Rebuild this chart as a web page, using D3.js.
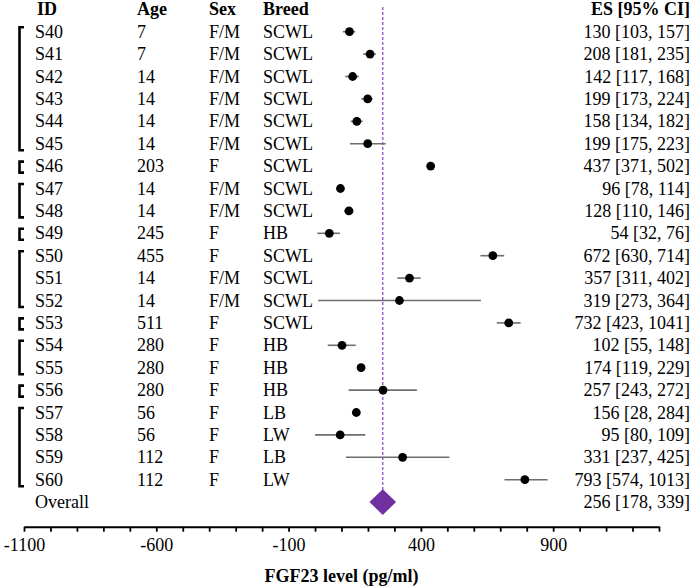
<!DOCTYPE html>
<html>
<head>
<meta charset="utf-8">
<script src="https://cdn.jsdelivr.net/npm/d3@7"></script>
<style>
  body { margin: 0; background: #fff; }
  svg text { font-family: "Liberation Serif", "Times New Roman", Times, "DejaVu Serif", serif; fill: #000; }
</style>
</head>
<body>
<div id="chart"></div>
<script>
// Study rows
const ids = ["S40", "S41", "S42", "S43", "S44", "S45", "S46", "S47", "S48", "S49", "S50",
    "S51", "S52", "S53", "S54", "S55", "S56", "S57", "S58", "S59", "S60"];
const ages = ["7", "7", "14", "14", "14", "14", "203", "14", "14", "245", "455",
    "14", "14", "511", "280", "280", "280", "56", "56", "112", "112"];
const sexes = ["F/M", "F/M", "F/M", "F/M", "F/M", "F/M", "F", "F/M", "F/M", "F", "F",
    "F/M", "F/M", "F", "F", "F", "F", "F", "F", "F", "F"];
const breeds = ["SCWL", "SCWL", "SCWL", "SCWL", "SCWL", "SCWL", "SCWL", "SCWL", "SCWL", "HB", "SCWL",
    "SCWL", "SCWL", "SCWL", "HB", "HB", "HB", "LB", "LW", "LB", "LW"];

// Effect sizes as printed
const es = [130, 208, 142, 199, 158, 199, 437, 96, 128, 54, 672, 357, 319, 732, 102, 174, 257, 156, 95, 331, 793];
const esLo = [103, 181, 117, 173, 134, 175, 371, 78, 110, 32, 630, 311, 273, 423, 55, 119, 243, 28, 80, 237, 574];
const esHi = [157, 235, 168, 224, 182, 223, 502, 114, 146, 76, 714, 402, 364, 1041, 148, 229, 272, 284, 109, 425, 1013];

// Whisker ends as drawn in the plot
const barLo = [105, 182, 114, 175, 135, 132, 437, 96, 110, 9, 625, 311, 12, 687, 48, 174, 127, 156, 0, 117, 716];
const barHi = [152, 230, 166, 218, 180, 267, 437, 96, 145, 94, 715, 399, 627, 777, 154, 174, 385, 156, 190, 508, 879];

// Pooled estimate
const overallES = 256;
const overallLo = 178;
const overallHi = 339;

// Brackets grouping studies
const groups = [["S40", "S45"], ["S46", "S46"], ["S47", "S48"], ["S49", "S49"], ["S50", "S52"],
    ["S53", "S53"], ["S54", "S55"], ["S56", "S56"], ["S57", "S60"]];

const xDomain = [-1100, 1300];
const tickVals = d3.range(-1100, 1301, 100);
const labelVals = [-1100, -600, -100, 400, 900];

const width = 692, height = 588;
const fs = 18;
const serif = "'Liberation Serif', 'Times New Roman', Times, 'DejaVu Serif', serif";

const svg = d3.select("#chart").append("svg")
    .attr("width", width)
    .attr("height", height)
    .style("font-family", serif);

const x = d3.scaleLinear().domain(xDomain).range([24, 659]);
const y = d3.scalePoint().domain(ids.concat(["Overall"])).range([31.7, 502.1]);

// Column headers
const headers = [
    { t: "ID", x: 37 },
    { t: "Age", x: 137 },
    { t: "Sex", x: 209 },
    { t: "Breed", x: 263 }
];
headers.forEach(h => {
    svg.append("text")
        .attr("x", h.x)
        .attr("y", 15)
        .style("font-size", fs + "px")
        .style("font-weight", "bold")
        .text(h.t);
});
svg.append("text")
    .attr("x", 690)
    .attr("y", 15)
    .style("font-size", fs + "px")
    .style("font-weight", "bold")
    .attr("text-anchor", "end")
    .text("ES [95% CI]");

// Row text
const cols = [
    { vals: ids, x: 35 },
    { vals: ages, x: 137 },
    { vals: sexes, x: 209 },
    { vals: breeds, x: 263 }
];
cols.forEach(c => {
    svg.selectAll(null)
        .data(ids)
        .enter()
        .append("text")
        .attr("x", c.x)
        .attr("y", d => y(d) + 6)
        .style("font-size", fs + "px")
        .text((d, i) => c.vals[i]);
});

svg.selectAll(".es")
    .data(ids)
    .enter()
    .append("text")
    .attr("class", "es")
    .attr("x", 690)
    .attr("y", d => y(d) + 6)
    .style("font-size", fs + "px")
    .attr("text-anchor", "end")
    .text((d, i) => `${es[i]} [${esLo[i]}, ${esHi[i]}]`);

svg.append("text")
    .attr("x", 35)
    .attr("y", y("Overall") + 6)
    .style("font-size", fs + "px")
    .text("Overall");
svg.append("text")
    .attr("x", 690)
    .attr("y", y("Overall") + 6)
    .style("font-size", fs + "px")
    .attr("text-anchor", "end")
    .text(`${overallES} [${overallLo}, ${overallHi}]`);

// Brackets
groups.forEach(([a, b]) => {
    const y0 = y(a) - 4.5, y1 = y(b) + 6.5;
    svg.append("path")
        .attr("d", `M24,${y0}H19.5V${y1}H24`)
        .attr("fill", "none")
        .attr("stroke", "#000")
        .attr("stroke-width", 2.6);
});

// Reference line at pooled estimate
svg.append("line")
    .attr("x1", x(overallES))
    .attr("x2", x(overallES))
    .attr("y1", 7)
    .attr("y2", y("Overall"))
    .attr("stroke", "#8d4fd0")
    .attr("stroke-width", 1.3)
    .attr("stroke-dasharray", "3,2");

// Whiskers and points
svg.selectAll(".ci")
    .data(ids)
    .enter()
    .append("line")
    .attr("class", "ci")
    .attr("x1", (d, i) => x(barLo[i]))
    .attr("x2", (d, i) => x(barHi[i]))
    .attr("y1", d => y(d))
    .attr("y2", d => y(d))
    .attr("stroke", "#6e6e6e")
    .attr("stroke-width", 1.6);

svg.selectAll(".pt")
    .data(ids)
    .enter()
    .append("circle")
    .attr("class", "pt")
    .attr("cx", (d, i) => x(es[i]))
    .attr("cy", d => y(d))
    .attr("r", 4.4)
    .attr("fill", "#000");

// Overall diamond
const cx = x(overallES), cy = y("Overall");
svg.append("path")
    .attr("d", `M${cx - 13.3},${cy}L${cx},${cy - 12.8}L${cx + 13.3},${cy}L${cx},${cy + 12.8}Z`)
    .attr("fill", "#7030a0");

// X axis
const axis = svg.append("g")
    .attr("transform", "translate(0,526.7)")
    .call(d3.axisBottom(x)
        .tickValues(tickVals)
        .tickSize(5)
        .tickSizeOuter(0)
        .tickFormat(d => labelVals.includes(d) ? d : ""));
axis.attr("font-family", null).attr("font-size", null);
axis.select(".domain").attr("stroke", "#000").attr("stroke-width", 2);
axis.selectAll(".tick line").attr("stroke", "#000").attr("stroke-width", 1.8);
axis.selectAll(".tick text")
    .style("font-family", serif)
    .style("font-size", fs + "px")
    .attr("fill", "#000")
    .attr("y", 10)
    .attr("dy", "0.78em");

svg.append("text")
    .attr("x", (x.range()[0] + x.range()[1]) / 2)
    .attr("y", 582)
    .style("font-size", fs + "px")
    .style("font-weight", "bold")
    .attr("text-anchor", "middle")
    .text("FGF23 level (pg/ml)");
</script>
</body>
</html>
